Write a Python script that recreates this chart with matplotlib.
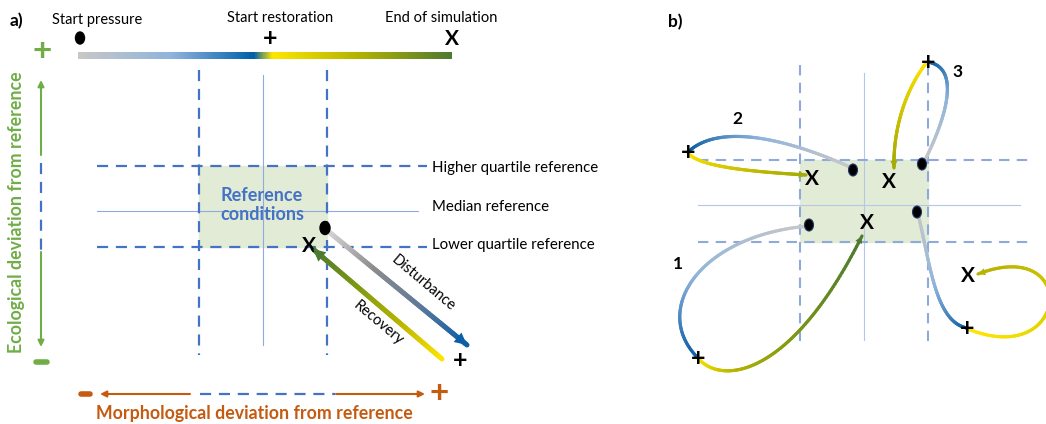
import numpy as np
import matplotlib
matplotlib.use("Agg")
import matplotlib.pyplot as plt
from matplotlib.collections import LineCollection
from matplotlib.colors import LinearSegmentedColormap
from matplotlib.patches import Rectangle, Ellipse

plt.rcParams['font.family'] = ['Lato', 'DejaVu Sans']

W, H = 1046, 424

# colours
press_cmap = LinearSegmentedColormap.from_list('press', ['#c8c8c8', '#8fb4dc', '#0b5fa5'])
dist_cmap = LinearSegmentedColormap.from_list('dist', ['#d4d4d4', '#8c8c8c', '#5f7a9a', '#0b5fa5'])
rest_cmap = LinearSegmentedColormap.from_list('rest', ['#ffe600', '#b9b500', '#7f9a12', '#4f7a32'])
bar_cmap = LinearSegmentedColormap.from_list(
    'bar', [(0.0, '#c8c8c8'), (0.25, '#8fb4dc'), (0.47, '#0060aa'),
            (0.52, '#ffe600'), (0.75, '#b3b400'), (1.0, '#4f7a32')])
green = '#70ad47'
orange = '#c55a11'
blue_a = '#4472c4'
blue_b = '#8eaadb'
thin_a = '#8faadc'
thin_b = '#b4c7e7'
box_col = '#e2ebd6'

# ---- panel a geometry (pixel coords) ----
a_vlines = [199, 327]
a_hlines = [166, 247]
a_mid = (263, 211)
a_labels = ['Higher quartile reference', 'Median reference', 'Lower quartile reference']
a_label_y = [168, 207, 245]
legend_labels = ['Start pressure', 'Start restoration', 'End of simulation']
legend_xy = [(52, 20), (227, 18), (385, 18)]
bar_x = (78, 452)
bar_y = 56

dist_start, dist_end = (329, 232), (467, 345)
rec_start, rec_end = (442, 359), (313, 249)

# ---- panel b geometry ----
b_vlines = [800, 928]
b_hlines = [160, 242]
b_mid = (864, 205)
b_dots = [(853, 170), (922, 164), (917, 212), (809, 225)]
b_xs = [(812, 179), (889, 182), (867, 223), (968, 276)]
# pressure paths (dot -> +) and restoration paths (+ -> X), cubic control points
press_paths = [
    [(809, 226), (700, 235), (650, 310), (698, 358)],
    [(850, 167), (790, 140), (720, 122), (688, 152)],
    [(925, 160), (945, 120), (962, 68), (928, 62)],
    [(918, 214), (930, 262), (935, 322), (967, 328)],
]
rest_paths = [
    [(698, 358), (720, 385), (790, 380), (862, 236)],
    [(688, 153), (700, 168), (760, 172), (806, 175)],
    [(927, 62), (905, 90), (893, 130), (894, 168)],
    [(968, 329), (1070, 370), (1080, 235), (978, 274)],
]
rest_range = [(0.0, 1.0), (0.0, 0.45), (0.0, 0.45), (0.0, 0.35)]
path_labels = ['1', '2', '3']
path_label_xy = [(678, 264), (737, 119), (958, 72)]


def bez(pts, n=120):
    p = np.array(pts, float)
    t = np.linspace(0, 1, n)[:, None]
    return ((1 - t) ** 3) * p[0] + 3 * ((1 - t) ** 2) * t * p[1] + 3 * (1 - t) * t ** 2 * p[2] + t ** 3 * p[3]


def grad_line(ax, xy, cmap, lw, c0=0.0, c1=1.0, arrow=False, ms=16):
    seg = np.stack([xy[:-1], xy[1:]], axis=1)
    cols = cmap(np.linspace(c0, c1, len(seg)))
    ax.add_collection(LineCollection(seg, colors=cols, linewidths=lw, capstyle='round', zorder=3))
    if arrow:
        ax.annotate('', xy=xy[-1], xytext=xy[-6],
                    arrowprops=dict(arrowstyle='-|>', color=cols[-1], lw=0,
                                    mutation_scale=ms, shrinkA=0, shrinkB=0), zorder=4)


fig = plt.figure(figsize=(W / 100, H / 100), dpi=100)
ax = fig.add_axes([0, 0, 1, 1])
ax.set_xlim(0, W)
ax.set_ylim(H, 0)
ax.axis('off')

# ---------- panel a ----------
ax.text(10, 21, 'a)', fontsize=12.5, fontweight='bold', va='center')
for (x, y), s in zip(legend_xy, legend_labels):
    ax.text(x, y, s, fontsize=10.5, va='center')
ax.imshow(np.linspace(0, 1, 400)[None, :], cmap=bar_cmap, aspect='auto',
          extent=(bar_x[0], bar_x[1], bar_y + 3.5, bar_y - 3.5), zorder=2)
ax.add_patch(Ellipse((80, 38), 9, 12, color='black', zorder=5))
ax.text(270, 38, '+', fontsize=18, fontweight='bold', ha='center', va='center')
ax.text(452, 39, 'X', fontsize=15, fontweight='bold', ha='center', va='center')

ax.add_patch(Rectangle((a_vlines[0], a_hlines[0]), a_vlines[1] - a_vlines[0],
                       a_hlines[1] - a_hlines[0], color=box_col, zorder=0))
for x in a_vlines:
    ax.plot([x, x], [70, 355], color=blue_a, lw=1.6, ls=(0, (5, 3.5)), zorder=1)
for y in a_hlines:
    ax.plot([97, 427], [y, y], color=blue_a, lw=1.6, ls=(0, (5, 3.5)), zorder=1)
ax.plot([a_mid[0], a_mid[0]], [75, 345], color=thin_a, lw=0.8, zorder=0.5)
ax.plot([97, 418], [a_mid[1], a_mid[1]], color=thin_a, lw=0.8, zorder=0.5)
for s, y in zip(a_labels, a_label_y):
    ax.text(432, y, s, fontsize=10.8, va='center')
ax.text(262, 205, 'Reference\nconditions', color=blue_a, fontsize=13, fontweight='bold',
        ha='center', va='center', linespacing=1.15)

grad_line(ax, np.linspace(dist_start, dist_end, 80), dist_cmap, 3.6, arrow=True, ms=22)
grad_line(ax, np.linspace(rec_start, rec_end, 80), rest_cmap, 3.6, arrow=True, ms=22)
ax.add_patch(Ellipse((325, 228), 10, 13, color='black', zorder=5))
ax.text(460, 360, '+', fontsize=18, fontweight='bold', ha='center', va='center')
ax.text(309, 246, 'X', fontsize=15, fontweight='bold', ha='center', va='center')
ax.text(423, 283, 'Disturbance', fontsize=10.5, rotation=-40, ha='center', va='center',
        rotation_mode='anchor')
ax.text(378, 323, 'Recovery', fontsize=10.5, rotation=-40, ha='center', va='center',
        rotation_mode='anchor')

# ecological axis
ax.annotate('', xy=(41, 80), xytext=(41, 155),
            arrowprops=dict(arrowstyle='-|>', color=green, lw=1.5, mutation_scale=9, shrinkA=0, shrinkB=0))
ax.plot([41, 41], [163, 250], color=blue_a, lw=1.6, ls=(0, (5, 3.5)))
ax.annotate('', xy=(41, 347), xytext=(41, 252),
            arrowprops=dict(arrowstyle='-|>', color=green, lw=1.5, mutation_scale=9, shrinkA=0, shrinkB=0))
ax.text(42, 52, '+', color=green, fontsize=24, fontweight='bold', ha='center', va='center')
ax.plot([36, 47], [362, 362], color=green, lw=4, solid_capstyle='round')
ax.text(17, 212, 'Ecological deviation from reference', color=green, fontsize=12.8,
        fontweight='bold', rotation=90, ha='center', va='center')

# morphological axis
ax.annotate('', xy=(100, 394), xytext=(190, 394),
            arrowprops=dict(arrowstyle='-|>', color=orange, lw=1.5, mutation_scale=9, shrinkA=0, shrinkB=0))
ax.plot([200, 335], [394, 394], color=blue_a, lw=1.6, ls=(0, (5, 3.5)))
ax.annotate('', xy=(425, 394), xytext=(336, 394),
            arrowprops=dict(arrowstyle='-|>', color=orange, lw=1.5, mutation_scale=9, shrinkA=0, shrinkB=0))
ax.plot([81, 90], [394, 394], color=orange, lw=4, solid_capstyle='round')
ax.text(439, 393, '+', color=orange, fontsize=24, fontweight='bold', ha='center', va='center')
ax.text(254, 413, 'Morphological deviation from reference', color=orange, fontsize=12.8,
        fontweight='bold', ha='center', va='center')

# ---------- panel b ----------
ax.text(668, 22, 'b)', fontsize=12.5, fontweight='bold', va='center')
ax.add_patch(Rectangle((b_vlines[0], b_hlines[0]), b_vlines[1] - b_vlines[0],
                       b_hlines[1] - b_hlines[0], color=box_col, zorder=0))
for x in b_vlines:
    ax.plot([x, x], [65, 345], color=blue_b, lw=1.5, ls=(0, (5, 3.5)), zorder=1)
for y in b_hlines:
    ax.plot([698, 1028], [y, y], color=blue_b, lw=1.5, ls=(0, (5, 3.5)), zorder=1)
ax.plot([b_mid[0], b_mid[0]], [73, 340], color=thin_b, lw=0.8, zorder=0.5)
ax.plot([698, 1020], [b_mid[1], b_mid[1]], color=thin_b, lw=0.8, zorder=0.5)

for pp in press_paths:
    grad_line(ax, bez(pp), press_cmap, 2.3)
for rp, (c0, c1) in zip(rest_paths, rest_range):
    grad_line(ax, bez(rp), rest_cmap, 2.3, c0, c1, arrow=True, ms=13)

for x, y in b_dots:
    ax.add_patch(Ellipse((x, y), 9, 12, facecolor='black', edgecolor='#1f3864', lw=0.8, zorder=5))
for x, y in b_xs:
    ax.text(x, y, 'X', fontsize=15, fontweight='bold', ha='center', va='center', zorder=6)
for pp in press_paths:
    x, y = pp[-1]
    ax.text(x, y, '+', fontsize=18, fontweight='bold', ha='center', va='center', zorder=6)
for s, (x, y) in zip(path_labels, path_label_xy):
    ax.text(x, y, s, fontsize=12.5, fontweight='bold', ha='center', va='center')

fig.savefig('out.png', dpi=100)
